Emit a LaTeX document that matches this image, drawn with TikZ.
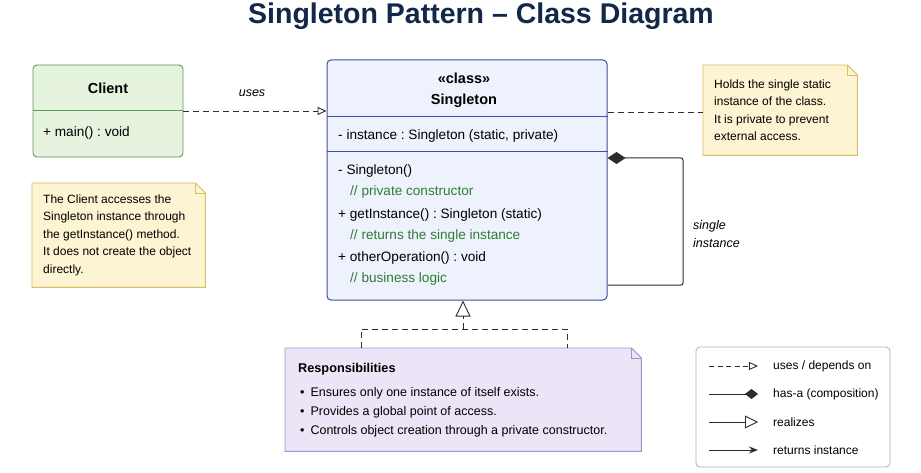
\documentclass[tikz,border=0pt]{standalone}
\usepackage{fontspec}
\setmainfont{Liberation Sans}
\frenchspacing
\definecolor{titlenavy}{RGB}{18, 40, 72}
\definecolor{clientgreen}{RGB}{92, 155, 80}
\definecolor{clientfill}{RGB}{229, 243, 223}
\definecolor{notegold}{RGB}{216, 190, 100}
\definecolor{notefill}{RGB}{252, 244, 211}
\definecolor{classblue}{RGB}{62, 80, 166}
\definecolor{classfill}{RGB}{238, 242, 252}
\definecolor{commentgreen}{RGB}{46, 125, 50}
\definecolor{resppurple}{RGB}{166, 142, 214}
\definecolor{respfill}{RGB}{236, 229, 247}
\definecolor{linegray}{RGB}{45, 45, 45}
\usetikzlibrary{arrows.meta, positioning, calc}

% outline of a note with a folded corner
\newcommand{\notepath}[1]{(#1.north west) -- ([xshift=-10pt]#1.north east) -- ([yshift=-10pt]#1.north east) -- (#1.south east) -- (#1.south west) -- cycle}
\newcommand{\notefold}[1]{([xshift=-10pt]#1.north east) -- ([xshift=-10pt, yshift=-10pt]#1.north east) -- ([yshift=-10pt]#1.north east)}

\tikzset{
  body/.style={font=\fontsize{13.6}{16}\selectfont, inner sep=0pt, anchor=west},
  comment/.style={body, text=commentgreen},
  header/.style={font=\fontsize{14.5}{18}\selectfont\bfseries, inner sep=0pt},
  notebox/.style={inner sep=0pt, anchor=north west},
  notetext/.style={font=\fontsize{12}{17.5}\selectfont, align=left, inner sep=0pt},
  dashline/.style={draw=linegray, line width=0.9pt, dash pattern=on 6pt off 4pt},
  legendtext/.style={font=\fontsize{12}{14}\selectfont, inner sep=0pt, anchor=west},
}

\begin{document}
\begin{tikzpicture}[x=1pt, y=-1pt]
  \useasboundingbox[fill=white] (0,0) rectangle (921,473);

  % Title
  \node[font=\fontsize{28.5}{32}\selectfont\bfseries, text=titlenavy] (title) at (481,16) {Singleton Pattern -- Class Diagram};

  % Client class
  \node[draw=clientgreen, fill=clientfill, line width=0.9pt, rounded corners=4pt, minimum width=150, minimum height=92] (client) at (108,111) {};
  \draw[clientgreen, line width=0.9pt] (client.west |- 0,110) -- (client.east |- 0,110);
  \node[header] (clientname) at (108,88) {Client};
  \node[body] (clientmain) at (43,133) {+ main() : void};

  % Client note
  \node[notebox, minimum width=173, minimum height=104] (clientnote) at (32,183) {};
  \filldraw[draw=notegold, fill=notefill, line width=0.9pt] \notepath{clientnote};
  \draw[notegold, line width=0.7pt] \notefold{clientnote};
  \node[notetext, right=11pt of clientnote.west] (clientnotetext) {
    The Client accesses the\\
    Singleton instance through\\
    the getInstance() method.\\
    It does not create the object\\
    directly.
  };

  % Singleton class
  \node[draw=classblue, fill=classfill, line width=1pt, rounded corners=4pt, minimum width=280, minimum height=240] (singleton) at (467,180) {};
  \draw[classblue, line width=1pt] (singleton.west |- 0,117) -- (singleton.east |- 0,117);
  \draw[classblue, line width=1pt] (singleton.west |- 0,152) -- (singleton.east |- 0,152);
  \node[header] (stereo) at (464,78) {«class»};
  \node[header] (classname) at (464,101) {Singleton};
  \node[body] (attr) at (338,136) {- instance : Singleton (static, private)};
  \node[body] (ctor) at (338,171) {- Singleton()};
  \node[comment] (ctornote) at (350,192) {// private constructor};
  \node[body] (getinst) at (338,215) {+ getInstance() : Singleton (static)};
  \node[comment] (getnote) at (350,236) {// returns the single instance};
  \node[body] (otherop) at (338,258) {+ otherOperation() : void};
  \node[comment] (othernote) at (350,279) {// business logic};

  % uses
  \draw[dashline, -{Triangle[open, length=9pt, width=8pt]}] (client.east) -- (singleton.west |- client.east);
  \node[font=\fontsize{12.5}{15}\selectfont\itshape] (useslabel) at (252,93) {uses};

  % Note on the instance field
  \node[notebox, minimum width=154, minimum height=90] (fieldnote) at (703,65) {};
  \filldraw[draw=notegold, fill=notefill, line width=0.9pt] \notepath{fieldnote};
  \draw[notegold, line width=0.7pt] \notefold{fieldnote};
  \node[notetext, right=11pt of fieldnote.west] (fieldnotetext) {
    Holds the single static\\
    instance of the class.\\
    It is private to prevent\\
    external access.
  };
  \draw[dashline] (singleton.east |- 0,112) -- (fieldnote.west |- 0,112);

  % Composition self loop
  \coordinate (loopturn) at (683,220);
  \draw[linegray, line width=1pt, rounded corners=2pt, {Diamond[length=18pt, width=12pt]}-] (singleton.east |- 0,158) -| (loopturn) |- (singleton.east |- 0,285);
  \node[font=\fontsize{12.5}{18}\selectfont\itshape, align=left, inner sep=0pt, anchor=west] (looplabel) at (693,234) {single\\instance};

  % Responsibilities note
  \node[notebox, minimum width=356, minimum height=103] (resp) at (285,348) {};
  \filldraw[draw=resppurple, fill=respfill, line width=0.9pt] \notepath{resp};
  \draw[resppurple, line width=0.7pt] \notefold{resp};
  \node[notetext, font=\fontsize{12.5}{17.5}\selectfont, right=13pt of resp.west] (resptext) {
    {\fontsize{12.7}{15}\selectfont\bfseries Responsibilities}\\[6.5pt]
    \hspace*{2pt}\textbullet\hspace{6pt}Ensures only one instance of itself exists.\\[1.5pt]
    \hspace*{2pt}\textbullet\hspace{6pt}Provides a global point of access.\\[1.5pt]
    \hspace*{2pt}\textbullet\hspace{6pt}Controls object creation through a private constructor.
  };

  % Realization from the note to the class
  \coordinate (forkL) at (361,329);
  \coordinate (forkM) at (463,329);
  \coordinate (forkR) at (567,329);
  \draw[dashline] (forkL |- resp.north) -- (forkL) -- (forkR) -- (forkR |- resp.north);
  \draw[dashline, -{Triangle[open, length=16pt, width=15pt]}] (forkM) -- (forkM |- singleton.south);

  % Legend
  \node[draw=black!30, fill=white, line width=0.8pt, rounded corners=4pt, minimum width=194, minimum height=120] (legend) at (793,407) {};
  \node[legendtext] (legusesT) at (773,366) {uses / depends on};
  \node[legendtext] (leghasT) at (773,394) {has-a (composition)};
  \node[legendtext] (legrealT) at (773,422) {realizes};
  \node[legendtext] (legretT) at (773,450) {returns instance};
  \coordinate (legusesS) at (709,366);
  \coordinate (leghasS) at (709,394);
  \coordinate (legrealS) at (709,422);
  \coordinate (legretS) at (709,450);
  \draw[dashline, dash pattern=on 5pt off 3.5pt, -{Triangle[open, length=9pt, width=8pt]}] (legusesS) -- ([xshift=-15pt]legusesT.west);
  \draw[linegray, line width=1pt, -{Diamond[length=13pt, width=10pt]}] (leghasS) -- ([xshift=-15pt]leghasT.west);
  \draw[linegray, line width=0.9pt, -{Triangle[open, length=13pt, width=13pt]}] (legrealS) -- ([xshift=-15pt]legrealT.west);
  \draw[linegray, line width=1pt, -{Stealth[length=9pt, width=7pt]}] (legretS) -- ([xshift=-15pt]legretT.west);
\end{tikzpicture}
\end{document}
